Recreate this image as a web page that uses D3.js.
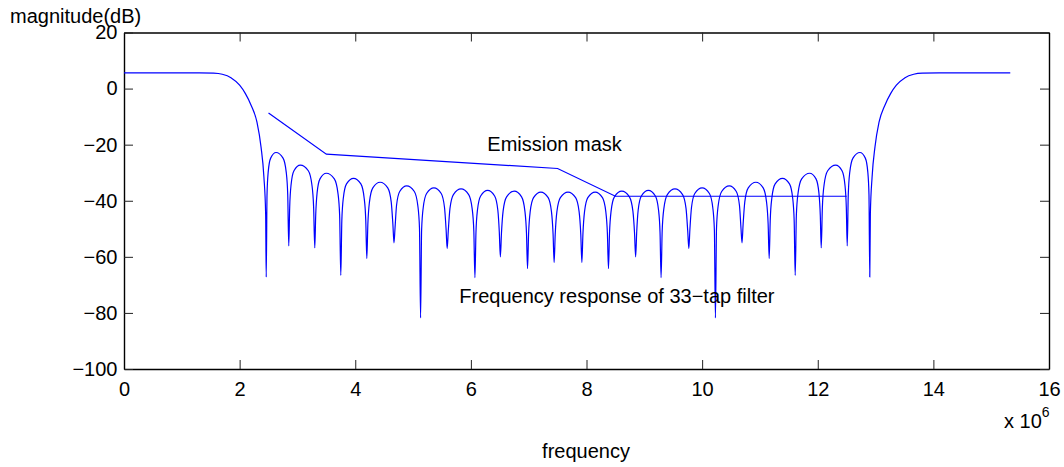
<!DOCTYPE html>
<html>
<head>
<meta charset="utf-8">
<script src="https://cdn.jsdelivr.net/npm/d3@7"></script>
<style>
  body { margin: 0; background: #fff; }
  svg text { font-family: "Liberation Sans", Arial, Helvetica, sans-serif; fill: #000; }
</style>
</head>
<body>
<div id="chart"></div>
<script>
// frequency in units of 1e6, magnitude in dB
var passbandLow = [[0, 5.6], [0.5, 5.6], [1.0, 5.6], [1.3, 5.6], [1.55, 5.5], [1.70, 5.1],
  [1.85, 3.9], [2.00, 1.2], [2.10, -1.8], [2.20, -6.0], [2.30, -12.0], [2.37, -20.8],
  [2.42, -31.5], [2.45, -44.6], [2.46, -67.2]];

// one sidelobe per row, ending in its null
var stopband = [
  [2.474, -37.8], [2.494, -29.8], [2.537, -24.8], [2.63, -22.8], [2.751, -24.8], [2.806, -29.8], [2.832, -37.8], [2.85, -56.1],
  [2.866, -42.3], [2.89, -34.3], [2.94, -29.3], [3.05, -27.3], [3.188, -29.3], [3.25, -34.3], [3.28, -42.3], [3.30, -56.8],
  [3.316, -45.2], [3.34, -37.2], [3.39, -32.2], [3.50, -30.2], [3.638, -32.2], [3.70, -37.2], [3.73, -45.2], [3.75, -66.6],
  [3.768, -47.0], [3.794, -39.0], [3.849, -34.0], [3.97, -32.0], [4.097, -34.0], [4.154, -39.0], [4.182, -47.0], [4.20, -60.6],
  [4.218, -48.4], [4.246, -40.4], [4.304, -35.4], [4.43, -33.4], [4.562, -35.4], [4.622, -40.4], [4.651, -48.4], [4.67, -55.0],
  [4.688, -49.7], [4.714, -41.7], [4.769, -36.7], [4.89, -34.7], [5.022, -36.7], [5.082, -41.7], [5.111, -49.7], [5.13, -81.8],
  [5.148, -50.4], [5.176, -42.4], [5.234, -37.4], [5.36, -35.4], [5.487, -37.4], [5.544, -42.4], [5.572, -50.4], [5.59, -57.0],
  [5.609, -50.8], [5.638, -42.8], [5.698, -37.8], [5.83, -35.8], [5.962, -37.8], [6.022, -42.8], [6.051, -50.8], [6.07, -67.4],
  [6.088, -51.3], [6.114, -43.3], [6.169, -38.3], [6.29, -36.3], [6.411, -38.3], [6.466, -43.3], [6.492, -51.3], [6.51, -60.0],
  [6.529, -51.6], [6.558, -43.6], [6.618, -38.6], [6.75, -36.6], [6.877, -38.6], [6.934, -43.6], [6.962, -51.6], [6.98, -64.2],
  [6.998, -51.9], [7.026, -43.9], [7.084, -38.9], [7.21, -36.9], [7.337, -38.9], [7.394, -43.9], [7.422, -51.9], [7.44, -62.0],
  [7.459, -51.9], [7.488, -43.9], [7.548, -38.9], [7.68, -36.9], [7.812, -38.9], [7.872, -43.9], [7.901, -51.9], [7.92, -62.0],
  [7.938, -51.9], [7.966, -43.9], [8.023, -38.9], [8.15, -36.9], [8.276, -38.9], [8.334, -43.9], [8.362, -51.9], [8.38, -64.2],
  [8.398, -51.6], [8.426, -43.6], [8.483, -38.6], [8.61, -36.6], [8.742, -38.6], [8.802, -43.6], [8.831, -51.6], [8.85, -60.0],
  [8.868, -51.3], [8.894, -43.3], [8.949, -38.3], [9.07, -36.3], [9.191, -38.3], [9.246, -43.3], [9.272, -51.3], [9.29, -67.4],
  [9.309, -50.8], [9.338, -42.8], [9.398, -37.8], [9.53, -35.8], [9.662, -37.8], [9.722, -42.8], [9.751, -50.8], [9.77, -57.0],
  [9.788, -50.4], [9.816, -42.4], [9.873, -37.4], [10.00, -35.4], [10.126, -37.4], [10.184, -42.4], [10.212, -50.4], [10.23, -81.8],
  [10.249, -49.7], [10.278, -41.7], [10.338, -36.7], [10.47, -34.7], [10.591, -36.7], [10.646, -41.7], [10.672, -49.7], [10.69, -55.0],
  [10.709, -48.4], [10.738, -40.4], [10.798, -35.4], [10.93, -33.4], [11.056, -35.4], [11.114, -40.4], [11.142, -48.4], [11.16, -60.6],
  [11.178, -47.0], [11.206, -39.0], [11.263, -34.0], [11.39, -32.0], [11.511, -34.0], [11.566, -39.0], [11.592, -47.0], [11.61, -66.6],
  [11.63, -45.2], [11.66, -37.2], [11.722, -32.2], [11.86, -30.2], [11.97, -32.2], [12.02, -37.2], [12.044, -45.2], [12.06, -56.8],
  [12.08, -42.3], [12.11, -34.3], [12.172, -29.3], [12.31, -27.3], [12.42, -29.3], [12.47, -34.3], [12.494, -42.3], [12.51, -56.1],
  [12.528, -37.8], [12.554, -29.8], [12.609, -24.8], [12.73, -22.8], [12.823, -24.8], [12.866, -29.8], [12.886, -37.8], [12.90, -67.2]];

var passbandHigh = [[12.91, -44.6], [12.94, -31.5], [12.99, -20.8], [13.06, -12.0], [13.16, -6.0],
  [13.26, -1.8], [13.36, 1.2], [13.51, 3.9], [13.66, 5.1], [13.81, 5.5], [14.1, 5.6], [14.6, 5.6],
  [15.0, 5.6], [15.33, 5.6]];

var maskFreq = [2.5, 3.5, 7.5, 8.5, 12.5];
var maskDb = [-8.7, -23.4, -28.5, -38.4, -38.4];

var xTicks = [0, 2, 4, 6, 8, 10, 12, 14, 16];
var yTicks = [-100, -80, -60, -40, -20, 0, 20];

var W = 1064, H = 467;
var plotLeft = 124, plotRight = 1049, plotTop = 32.5, plotBottom = 369;

var svg = d3.select("#chart").append("svg")
  .attr("width", W).attr("height", H);

var x = d3.scaleLinear().domain([0, 16]).range([plotLeft, plotRight]);
var y = d3.scaleLinear().domain([-100, 20]).range([plotBottom, plotTop]);

// axes, ticks point inward on all four sides
function styleAxis(g) {
  g.select(".domain").attr("stroke", "#000").attr("stroke-width", 1.4);
  g.selectAll(".tick line").attr("stroke", "#222").attr("stroke-width", 1);
  g.selectAll(".tick text").style("font-size", "20px").attr("fill", "#000");
}

svg.append("g").attr("transform", "translate(0," + plotBottom + ")")
  .call(d3.axisBottom(x).tickValues(xTicks).tickSizeInner(-9).tickSizeOuter(0).tickPadding(12.5))
  .call(styleAxis);
svg.append("g").attr("transform", "translate(0," + plotTop + ")")
  .call(d3.axisTop(x).tickValues(xTicks).tickSizeInner(-9).tickSizeOuter(0).tickFormat(""))
  .call(styleAxis);
svg.append("g").attr("transform", "translate(" + plotLeft + ",0)")
  .call(d3.axisLeft(y).tickValues(yTicks).tickSizeInner(-9).tickSizeOuter(0).tickPadding(6.5))
  .call(styleAxis);
svg.append("g").attr("transform", "translate(" + plotRight + ",0)")
  .call(d3.axisRight(y).tickValues(yTicks).tickSizeInner(-9).tickSizeOuter(0).tickFormat(""))
  .call(styleAxis);

// filter response
var response = passbandLow.concat(stopband, passbandHigh);
var line = d3.line()
  .x(function(d) { return x(d[0]); })
  .y(function(d) { return y(d[1]); })
  .curve(d3.curveMonotoneX);

svg.append("path")
  .datum(response)
  .attr("fill", "none")
  .attr("stroke", "#0000ff")
  .attr("stroke-width", 1.2)
  .attr("d", line);

// emission mask
var mask = maskFreq.map(function(f, i) { return [f, maskDb[i]]; });
svg.append("path")
  .datum(mask)
  .attr("fill", "none")
  .attr("stroke", "#0000ff")
  .attr("stroke-width", 1.2)
  .attr("d", d3.line().x(function(d) { return x(d[0]); }).y(function(d) { return y(d[1]); }));

// labels
svg.append("text").attr("x", 10).attr("y", 23.3)
  .style("font-size", "20px").text("magnitude(dB)");
svg.append("text").attr("x", 586).attr("y", 458)
  .attr("text-anchor", "middle").style("font-size", "20px").text("frequency");
svg.append("text").attr("x", 487.3).attr("y", 150.7)
  .style("font-size", "20px").text("Emission mask");
svg.append("text").attr("x", 459.3).attr("y", 303.3)
  .style("font-size", "20px").text("Frequency response of 33\u2212tap filter");

var expo = svg.append("text").attr("x", 1004).attr("y", 428.3).style("font-size", "20px");
expo.append("tspan").text("x 10");
expo.append("tspan").attr("dy", -11.5).style("font-size", "14px").text("6");
</script>
</body>
</html>
